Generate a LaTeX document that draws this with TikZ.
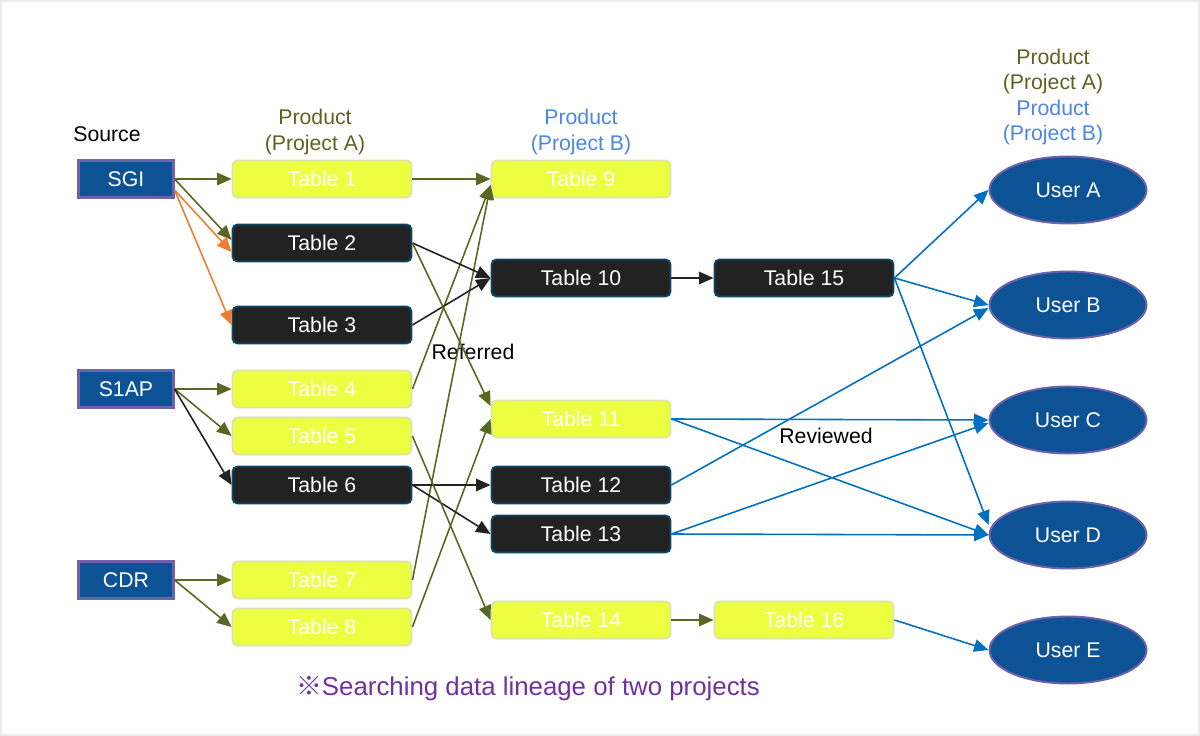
\documentclass[tikz,border=0pt]{standalone}
\usepackage{fontspec}
\setmainfont{Liberation Sans}
\newfontfamily\cjkfont{Noto Sans CJK JP}
\definecolor{dlblue}{RGB}{14,82,150}
\definecolor{dlframe}{RGB}{110,98,172}
\definecolor{dlyellow}{RGB}{236,255,64}
\definecolor{dlyellowline}{RGB}{216,228,168}
\definecolor{dldark}{RGB}{34,34,34}
\definecolor{dlteal}{RGB}{12,72,104}
\definecolor{dlolive}{RGB}{88,104,34}
\definecolor{dlorange}{RGB}{237,125,49}
\definecolor{dlsky}{RGB}{0,112,192}
\definecolor{dlolivetext}{RGB}{96,96,32}
\definecolor{dlbluetext}{RGB}{74,134,232}
\definecolor{dlpurple}{RGB}{112,48,160}
\usetikzlibrary{arrows.meta,positioning,shapes.geometric}

\begin{document}
\begin{tikzpicture}[x=0.02cm,y=-0.02cm,font=\fontsize{12.1}{14.6}\selectfont,
  srcbox/.style={draw=dlframe,fill=dlblue,text=white,line width=1.2pt,minimum width=1.9cm,minimum height=0.74cm},
  prodbox/.style={draw=dlyellowline,fill=dlyellow,text=white,rounded corners=0.1cm,line width=1.1pt,minimum width=3.58cm,minimum height=0.74cm},
  darkbox/.style={prodbox,draw=dlteal,fill=dldark},
  userell/.style={ellipse,draw=dlframe,fill=dlblue,text=white,line width=1.1pt,minimum width=3.14cm,minimum height=1.34cm},
  tip/.style={-{Triangle[length=0.29cm,width=0.25cm]},line width=0.9pt},
  oarr/.style={tip,dlolive},
  rarr/.style={tip,dlorange},
  karr/.style={tip,dldark},
  barr/.style={tip,dlsky}]
  \useasboundingbox (0,0) rectangle (1200,736);
  \draw[black!8,line width=1pt] (1,1) rectangle (1199,735);
  % sources
  \node[srcbox] (sgi) at (126,179) {SGI};
  \node[srcbox] (s1ap) at (126,389) {S1AP};
  \node[srcbox] (cdr) at (126,580) {CDR};
  % project A tables
  \node[prodbox] (t1) at (322,179) {Table 1};
  \node[darkbox] (t2) at (322,243) {Table 2};
  \node[darkbox] (t3) at (322,325) {Table 3};
  \node[prodbox] (t4) at (322,389) {Table 4};
  \node[prodbox] (t5) at (322,436) {Table 5};
  \node[darkbox] (t6) at (322,485) {Table 6};
  \node[prodbox] (t7) at (322,580) {Table 7};
  \node[prodbox] (t8) at (322,627) {Table 8};
  % project B tables
  \node[prodbox] (t9) at (581,179) {Table 9};
  \node[darkbox] (t10) at (581,278) {Table 10};
  \node[prodbox] (t11) at (581,419) {Table 11};
  \node[darkbox] (t12) at (581,485) {Table 12};
  \node[darkbox] (t13) at (581,534) {Table 13};
  \node[prodbox] (t14) at (581,620) {Table 14};
  \node[darkbox] (t15) at (804,278) {Table 15};
  \node[prodbox] (t16) at (804,620) {Table 16};
  % users
  \node[userell] (ua) at (1068,190) {User A};
  \node[userell] (ub) at (1068,305) {User B};
  \node[userell] (uc) at (1068,420) {User C};
  \node[userell] (ud) at (1068,535) {User D};
  \node[userell] (ue) at (1068,650) {User E};
  % headings
  \node (src) at (107,134) {Source};
  \node[dlolivetext,align=center] (hda) at (315,132) {Product\\(Project A)};
  \node[dlbluetext,align=center] (hdb) at (581,132) {Product\\(Project B)};
  \node[align=center] (hdu) at (1053,97) {\textcolor{dlolivetext}{Product}\\\textcolor{dlolivetext}{(Project A)}\\\textcolor{dlbluetext}{Product}\\\textcolor{dlbluetext}{(Project B)}};
  \node (refd) at (473,352) {Referred};
  \node (revd) at (826,436) {Reviewed};
  \node[dlpurple,font=\fontsize{14.7}{17}\selectfont] (note) at (528,689) {{\cjkfont ※}Searching data lineage of two projects};
  % sources to project A
  \draw[oarr] (sgi.east) -- (t1.west);
  \draw[oarr] (sgi.east) -- ([yshift=0.06cm]t2.west);
  \draw[rarr] ([yshift=-0.22cm]sgi.east) -- ([yshift=-0.18cm]t2.west);
  \draw[rarr] ([yshift=-0.22cm]sgi.east) -- (t3.west);
  \draw[oarr] (s1ap.east) -- (t4.west);
  \draw[oarr] (s1ap.east) -- (t5.west);
  \draw[karr] (s1ap.east) -- (t6.west);
  \draw[oarr] (cdr.east) -- (t7.west);
  \draw[oarr] (cdr.east) -- (t8.west);
  % project A to project B
  \draw[oarr] (t1.east) -- (t9.west);
  \draw[oarr] (t4.east) -- ([yshift=-0.12cm]t9.west);
  \draw[oarr] (t7.east) -- ([yshift=-0.12cm]t9.west);
  \draw[karr] (t2.east) -- (t10.west);
  \draw[karr] (t3.east) -- (t10.west);
  \draw[oarr] (t2.east) -- ([yshift=0.26cm]t11.west);
  \draw[oarr] (t8.east) -- (t11.west);
  \draw[karr] (t6.east) -- (t12.west);
  \draw[karr] (t6.east) -- (t13.west);
  \draw[oarr] (t5.east) -- (t14.west);
  \draw[karr] (t10) -- (t15);
  \draw[oarr] (t14) -- (t16);
  % tables to users
  \draw[barr] (t15.east) -- (ua.west);
  \draw[barr] (t15.east) -- (ub.west);
  \draw[barr] (t15.east) -- ([yshift=0.2cm]ud.west);
  \draw[barr] (t11.east) -- (uc.west);
  \draw[barr] (t11.east) -- (ud.west);
  \draw[barr] (t12.east) -- ([yshift=-0.06cm]ub.west);
  \draw[barr] (t13.east) -- ([yshift=-0.06cm]uc.west);
  \draw[barr] (t13.east) -- (ud.west);
  \draw[barr] (t16.east) -- (ue.west);
\end{tikzpicture}
\end{document}
